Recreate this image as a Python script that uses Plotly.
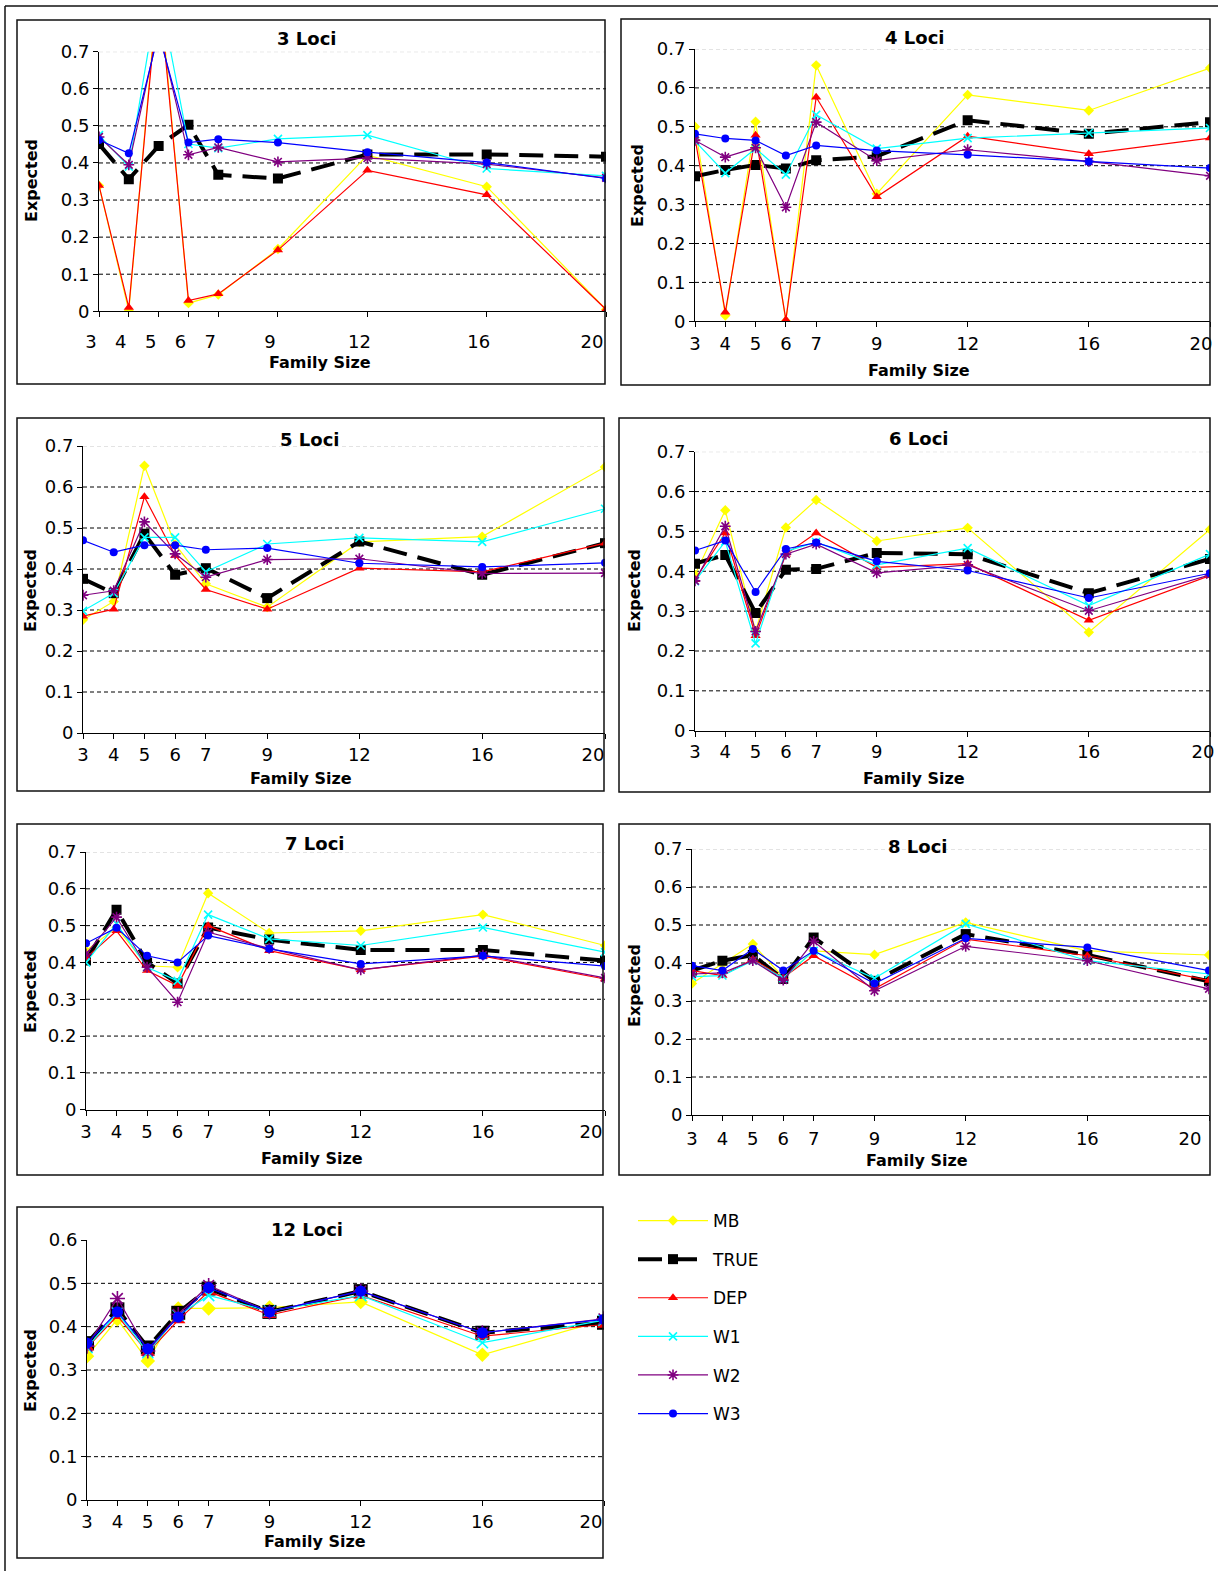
import plotly.graph_objects as go

# ---------------- data ----------------
FAMILY_SIZES = [3, 4, 5, 6, 7, 9, 12, 16, 20]
SERIES = ["MB", "TRUE", "DEP", "W1", "W2", "W3"]
PANEL_TITLES = ["3 Loci", "4 Loci", "5 Loci", "6 Loci", "7 Loci", "8 Loci", "12 Loci"]

L3_MB   = [0.339, 0.001, 0.90, 0.022, 0.045, 0.168, 0.421, 0.336, 0.005]
L3_TRUE = [0.451, 0.356, 0.446, 0.503, 0.368, 0.358, 0.423, 0.423, 0.417]
L3_DEP  = [0.339, 0.010, 0.88, 0.029, 0.047, 0.165, 0.380, 0.314, 0.005]
L3_W1   = [0.475, 0.390, 0.87, 0.451, 0.440, 0.465, 0.475, 0.385, 0.365]
L3_W2   = [0.470, 0.395, 0.76, 0.422, 0.442, 0.403, 0.413, 0.397, 0.360]
L3_W3   = [0.462, 0.426, 0.75, 0.455, 0.464, 0.455, 0.429, 0.401, 0.358]

L4_MB   = [0.500, 0.015, 0.513, 0.000, 0.658, 0.328, 0.582, 0.542, 0.651]
L4_TRUE = [0.373, 0.389, 0.402, 0.393, 0.414, 0.424, 0.517, 0.482, 0.512]
L4_DEP  = [0.471, 0.023, 0.478, 0.004, 0.576, 0.320, 0.476, 0.431, 0.471]
L4_W1   = [0.463, 0.381, 0.444, 0.377, 0.531, 0.444, 0.471, 0.484, 0.497]
L4_W2   = [0.465, 0.422, 0.446, 0.293, 0.512, 0.413, 0.441, 0.411, 0.374]
L4_W3   = [0.482, 0.470, 0.465, 0.426, 0.452, 0.439, 0.428, 0.411, 0.394]

L5_MB   = [0.276, 0.321, 0.652, 0.460, 0.364, 0.307, 0.466, 0.479, 0.649]
L5_TRUE = [0.376, 0.341, 0.486, 0.386, 0.402, 0.329, 0.467, 0.386, 0.463]
L5_DEP  = [0.285, 0.302, 0.576, 0.433, 0.350, 0.302, 0.402, 0.393, 0.463]
L5_W1   = [0.298, 0.341, 0.477, 0.477, 0.393, 0.461, 0.476, 0.466, 0.547]
L5_W2   = [0.336, 0.347, 0.515, 0.437, 0.380, 0.423, 0.425, 0.389, 0.390]
L5_W3   = [0.470, 0.441, 0.458, 0.458, 0.447, 0.451, 0.414, 0.405, 0.415]

L6_MB   = [0.391, 0.553, 0.250, 0.510, 0.579, 0.476, 0.509, 0.247, 0.505]
L6_TRUE = [0.419, 0.441, 0.295, 0.404, 0.406, 0.446, 0.443, 0.345, 0.431]
L6_DEP  = [0.379, 0.496, 0.238, 0.443, 0.496, 0.410, 0.419, 0.277, 0.389]
L6_W1   = [0.375, 0.475, 0.219, 0.450, 0.473, 0.416, 0.458, 0.314, 0.443]
L6_W2   = [0.376, 0.513, 0.249, 0.443, 0.468, 0.396, 0.416, 0.301, 0.391]
L6_W3   = [0.452, 0.477, 0.348, 0.456, 0.472, 0.425, 0.402, 0.333, 0.395]

L7_MB   = [0.432, 0.495, 0.391, 0.387, 0.588, 0.480, 0.486, 0.530, 0.446]
L7_TRUE = [0.405, 0.543, 0.400, 0.343, 0.495, 0.462, 0.434, 0.434, 0.405]
L7_DEP  = [0.412, 0.486, 0.378, 0.337, 0.500, 0.432, 0.380, 0.417, 0.355]
L7_W1   = [0.400, 0.505, 0.387, 0.350, 0.530, 0.464, 0.446, 0.495, 0.428]
L7_W2   = [0.423, 0.523, 0.387, 0.292, 0.482, 0.438, 0.380, 0.420, 0.358]
L7_W3   = [0.452, 0.494, 0.418, 0.400, 0.473, 0.437, 0.396, 0.418, 0.390]

L8_MB   = [0.346, 0.397, 0.450, 0.362, 0.432, 0.422, 0.507, 0.432, 0.421]
L8_TRUE = [0.380, 0.406, 0.421, 0.358, 0.467, 0.353, 0.476, 0.421, 0.352]
L8_DEP  = [0.380, 0.367, 0.410, 0.362, 0.419, 0.332, 0.463, 0.419, 0.354]
L8_W1   = [0.364, 0.367, 0.406, 0.360, 0.432, 0.360, 0.503, 0.406, 0.371]
L8_W2   = [0.371, 0.374, 0.406, 0.355, 0.457, 0.327, 0.444, 0.406, 0.332]
L8_W3   = [0.393, 0.380, 0.437, 0.380, 0.432, 0.346, 0.465, 0.441, 0.380]

L12_MB   = [0.332, 0.417, 0.321, 0.442, 0.442, 0.444, 0.457, 0.335, 0.415]
L12_TRUE = [0.362, 0.440, 0.352, 0.432, 0.488, 0.434, 0.482, 0.386, 0.409]
L12_DEP  = [0.352, 0.425, 0.340, 0.415, 0.481, 0.427, 0.472, 0.378, 0.405]
L12_W1   = [0.352, 0.432, 0.340, 0.426, 0.472, 0.436, 0.472, 0.363, 0.415]
L12_W2   = [0.355, 0.465, 0.344, 0.428, 0.495, 0.434, 0.482, 0.386, 0.418]
L12_W3   = [0.362, 0.434, 0.349, 0.422, 0.490, 0.434, 0.482, 0.386, 0.417]

PANEL_DATA = [
    [L3_MB, L3_TRUE, L3_DEP, L3_W1, L3_W2, L3_W3],
    [L4_MB, L4_TRUE, L4_DEP, L4_W1, L4_W2, L4_W3],
    [L5_MB, L5_TRUE, L5_DEP, L5_W1, L5_W2, L5_W3],
    [L6_MB, L6_TRUE, L6_DEP, L6_W1, L6_W2, L6_W3],
    [L7_MB, L7_TRUE, L7_DEP, L7_W1, L7_W2, L7_W3],
    [L8_MB, L8_TRUE, L8_DEP, L8_W1, L8_W2, L8_W3],
    [L12_MB, L12_TRUE, L12_DEP, L12_W1, L12_W2, L12_W3],
]
PANEL_YMAX = [0.7, 0.7, 0.7, 0.7, 0.7, 0.7, 0.6]
Y_TICKS = [0, 0.1, 0.2, 0.3, 0.4, 0.5, 0.6, 0.7]

# ---------------- layout geometry (pixels) ----------------
W, H = 1218, 1571
FONT = "DejaVu Sans"
NP = len(PANEL_TITLES)

def fx(x):
    return x / W

def fy(y):
    return 1 - y / H

# plot area: (left, right, top(ymax), bottom(0)), frame box, title, xtitle, ytitle,
# label shift, label standoff, extra shift of the last label (kept inside the frame)
GEOM = [
    dict(plot=(99, 606, 51.7, 311.3), box=(17, 20, 605, 384), title=(306, 39), xt=(320, 363), yt=(32, 181), shift=-8, stand=9, last=-14),
    dict(plot=(695, 1210, 49, 321.3), box=(621, 19, 1210, 385), title=(914, 37), xt=(919, 370), yt=(637, 186), shift=0, stand=1, last=-9),
    dict(plot=(83, 605, 446, 733), box=(17, 418, 604, 791), title=(309, 439), xt=(301, 778), yt=(30, 591), shift=0, stand=0, last=-12),
    dict(plot=(695, 1210, 451.7, 730.7), box=(619, 418, 1210, 792), title=(918, 438), xt=(914, 778), yt=(634, 591), shift=0, stand=0, last=-7),
    dict(plot=(86, 605, 852, 1109.7), box=(17, 824, 603, 1175), title=(314, 843), xt=(312, 1158), yt=(30, 992), shift=0, stand=1, last=-14),
    dict(plot=(692, 1209, 849, 1115), box=(619, 824, 1210, 1175), title=(917, 846), xt=(917, 1160), yt=(634, 986), shift=0, stand=2, last=-19),
    dict(plot=(87, 604, 1240, 1500), box=(17, 1207, 603, 1558), title=(307, 1229), xt=(315, 1541), yt=(30, 1371), shift=0, stand=0, last=-13),
]

STYLE = {
    "MB":   dict(color="#FFFF00", symbol="diamond", size=8, width=1.2, dash="solid"),
    "TRUE": dict(color="#000000", symbol="square", size=10, width=4, dash="24px,11px"),
    "DEP":  dict(color="#FF0000", symbol="triangle-up", size=9, width=1.2, dash="solid"),
    "W1":   dict(color="#00FFFF", symbol="x-thin", size=8, width=1.2, dash="solid"),
    "W2":   dict(color="#800080", symbol="asterisk", size=9, width=1.2, dash="solid"),
    "W3":   dict(color="#0000FF", symbol="circle", size=8, width=1.2, dash="solid"),
}

fig = go.Figure()
shapes = []
annotations = []

def axname(prefix, k):
    return prefix if k == 1 else f"{prefix}{k}"

for i, (title, data, ymax, g) in enumerate(zip(PANEL_TITLES, PANEL_DATA, PANEL_YMAX, GEOM)):
    n = i + 1
    xa = axname("x", n)
    xo = axname("x", n + NP)        # overlay x axis carrying the last tick label
    ya = axname("y", n)
    big = 1.4 if n == 7 else 1.0
    for name, vals in zip(SERIES, data):
        st = STYLE[name]
        line_only = st["symbol"] in ("x-thin", "asterisk")
        fig.add_trace(go.Scatter(
            x=FAMILY_SIZES, y=vals, mode="lines+markers", name=name,
            xaxis=(xo if name == SERIES[-1] else xa), yaxis=ya,
            legendgroup=name, showlegend=(n == 1),
            line=dict(color=st["color"], width=st["width"], dash=st["dash"]),
            marker=dict(symbol=st["symbol"], size=st["size"] * big, color=st["color"],
                        line=dict(color=st["color"], width=1.6 if line_only else 0)),
        ))
    left, right, top, bottom = g["plot"]
    ticktext = [str(v) for v in FAMILY_SIZES]
    ticktext[-1] = ""
    common_x = dict(range=[3, 20], anchor=ya, showgrid=False, zeroline=False,
                    ticks="outside", ticklen=5, tickcolor="black",
                    tickfont=dict(family=FONT, size=18, color="black"),
                    ticklabeloverflow="allow", ticklabelstandoff=g["stand"], automargin=False)
    axis_x = dict(domain=[fx(left), fx(right)], tickvals=FAMILY_SIZES, ticktext=ticktext,
                  showline=True, linecolor="black", linewidth=1,
                  ticklabelshift=g["shift"], **common_x)
    axis_xo = dict(overlaying=xa, side="bottom", tickvals=FAMILY_SIZES[-1:],
                   ticktext=[str(FAMILY_SIZES[-1])], showline=False,
                   ticklabelshift=g["last"], **common_x)
    yt = [v for v in Y_TICKS if v <= ymax + 1e-9]
    axis_y = dict(domain=[fy(bottom), fy(top)], range=[0, ymax], anchor=xa,
                  tickvals=yt, ticktext=[("0" if v == 0 else f"{v:.1f}") for v in yt],
                  showline=True, linecolor="black", linewidth=1,
                  ticks="outside", ticklen=5, tickcolor="black", showgrid=False, zeroline=False,
                  tickfont=dict(family=FONT, size=18, color="black"),
                  ticklabeloverflow="allow", automargin=False)
    fig.update_layout(**{("xaxis" if n == 1 else f"xaxis{n}"): axis_x,
                         f"xaxis{n + NP}": axis_xo,
                         ("yaxis" if n == 1 else f"yaxis{n}"): axis_y})
    # gridlines
    for v in yt:
        if v == 0:
            continue
        topline = abs(v - 0.7) < 1e-9
        if n == 7 and abs(v - ymax) < 1e-9:
            continue
        shapes.append(dict(type="line", xref=f"{xa} domain", yref=ya, x0=0, x1=1, y0=v, y1=v,
                           layer="below",
                           line=dict(color="#c8c8c8" if topline else "#000000", width=1, dash="4px,3px")))
    # frame box
    bx0, by0, bx1, by1 = g["box"]
    shapes.append(dict(type="rect", xref="paper", yref="paper", x0=fx(bx0), x1=fx(bx1),
                       y0=fy(by1), y1=fy(by0), line=dict(color="#111111", width=1.5)))
    # texts
    annotations.append(dict(text=f"<b>{title}</b>", xref="paper", yref="paper",
                            x=fx(g["title"][0]), y=fy(g["title"][1]), xanchor="center", yanchor="middle",
                            showarrow=False, font=dict(family=FONT, size=18, color="black")))
    annotations.append(dict(text="<b>Family Size</b>", xref="paper", yref="paper",
                            x=fx(g["xt"][0]), y=fy(g["xt"][1]), xanchor="center", yanchor="middle",
                            showarrow=False, font=dict(family=FONT, size=16, color="black")))
    annotations.append(dict(text="<b>Expected</b>", xref="paper", yref="paper", textangle=-90,
                            x=fx(g["yt"][0]), y=fy(g["yt"][1]), xanchor="center", yanchor="middle",
                            showarrow=False, font=dict(family=FONT, size=16, color="black")))

# outer frame (top and left edges)
shapes.append(dict(type="line", xref="paper", yref="paper", x0=fx(5), x1=1, y0=fy(6), y1=fy(6),
                   line=dict(color="#111111", width=1.5)))
shapes.append(dict(type="line", xref="paper", yref="paper", x0=fx(5), x1=fx(5), y0=0, y1=fy(6),
                   line=dict(color="#111111", width=1.5)))

fig.update_layout(
    width=W, height=H, margin=dict(l=0, r=0, t=0, b=0, pad=0, autoexpand=False),
    paper_bgcolor="white", plot_bgcolor="white",
    shapes=shapes, annotations=annotations,
    showlegend=True,
    legend=dict(x=fx(633), y=fy(1203), xanchor="left", yanchor="top",
                font=dict(family=FONT, size=17, color="black"),
                tracegroupgap=13.5, itemwidth=70, bgcolor="rgba(0,0,0,0)",
                traceorder="grouped"),
)

fig.write_html("out.html")
